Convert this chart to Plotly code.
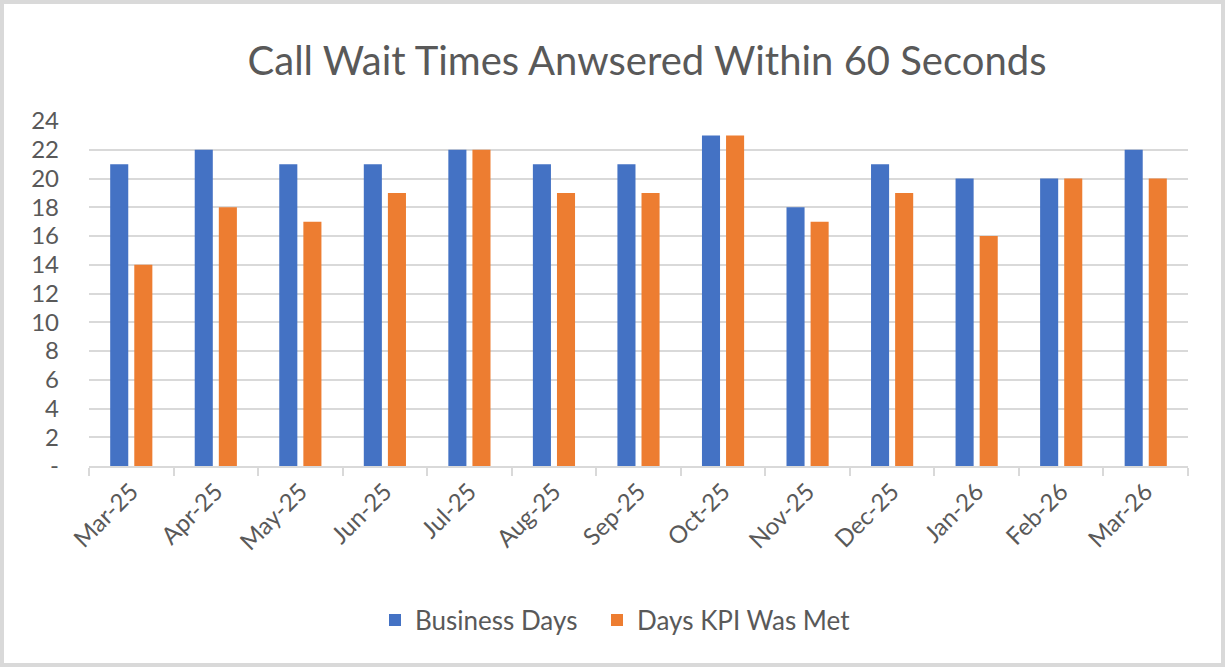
import plotly.graph_objects as go

months = ["Mar-25", "Apr-25", "May-25", "Jun-25", "Jul-25", "Aug-25", "Sep-25",
          "Oct-25", "Nov-25", "Dec-25", "Jan-26", "Feb-26", "Mar-26"]
business_days = [21, 22, 21, 21, 22, 21, 21, 23, 18, 21, 20, 20, 22]
kpi_met_days = [14, 18, 17, 19, 22, 19, 19, 23, 17, 19, 16, 20, 20]
y_tick_vals = [0, 2, 4, 6, 8, 10, 12, 14, 16, 18, 20, 22, 24]
y_tick_text = ["-", "2", "4", "6", "8", "10", "12", "14", "16", "18", "20", "22", "24"]

W, H = 1225, 667
ML, MR, MT, MB = 89, 37, 121, 201
pw, ph = W - ML - MR, H - MT - MB

font_fam = "Lato, Open Sans, sans-serif"
grey = "#595959"

fig = go.Figure()
fig.add_trace(go.Bar(name="Business Days", x=months, y=business_days,
                     marker_color="#4472C4", marker_line_width=0, legend="legend"))
fig.add_trace(go.Bar(name="Days KPI Was Met", x=months, y=kpi_met_days,
                     marker_color="#ED7D31", marker_line_width=0, legend="legend2"))

leg_common = dict(orientation="h", xanchor="left", y=(H - 620) / H,
                  yref="container", yanchor="middle", bgcolor="rgba(0,0,0,0)",
                  font=dict(size=26, color=grey), itemwidth=30)

fig.update_layout(
    width=W, height=H,
    margin=dict(l=ML, r=MR, t=MT, b=MB),
    paper_bgcolor="white", plot_bgcolor="white",
    barmode="group", bargap=0.43, bargroupgap=0.25,
    font=dict(family=font_fam, color=grey),
    title=dict(text="Call Wait Times Anwsered Within 60 Seconds",
               x=647 / W, xref="container", xanchor="center",
               y=1 - 61 / H, yanchor="middle",
               font=dict(size=40, color=grey, family=font_fam)),
    legend=dict(x=(375 - ML) / pw, **leg_common),
    legend2=dict(x=(597 - ML) / pw, **leg_common),
    showlegend=True,
)
fig.update_xaxes(
    tickangle=-45, tickfont=dict(size=24, color=grey),
    showline=True, linecolor="#d9d9d9", linewidth=2,
    ticks="outside", tickson="boundaries", ticklen=8, tickcolor="#d9d9d9", tickwidth=2,
    showgrid=False,
)
fig.update_yaxes(
    range=[0, 24], tickvals=y_tick_vals, ticktext=y_tick_text,
    tickfont=dict(size=24, color=grey),
    showgrid=True, gridcolor="#d9d9d9", gridwidth=2,
    zeroline=False, showline=False, ticklabelstandoff=29,
)
# outer border around the whole chart
fig.add_shape(type="rect", xref="paper", yref="paper",
              x0=(2 - ML) / pw, x1=(W - 2 - ML) / pw,
              y0=-(MB - 2) / ph, y1=1 + (MT - 2) / ph,
              line=dict(color="#d9d9d9", width=4), fillcolor="rgba(0,0,0,0)", layer="below")

fig.write_html("out.html", config={"displayModeBar": False},
               post_script="document.body.style.margin='0';")
